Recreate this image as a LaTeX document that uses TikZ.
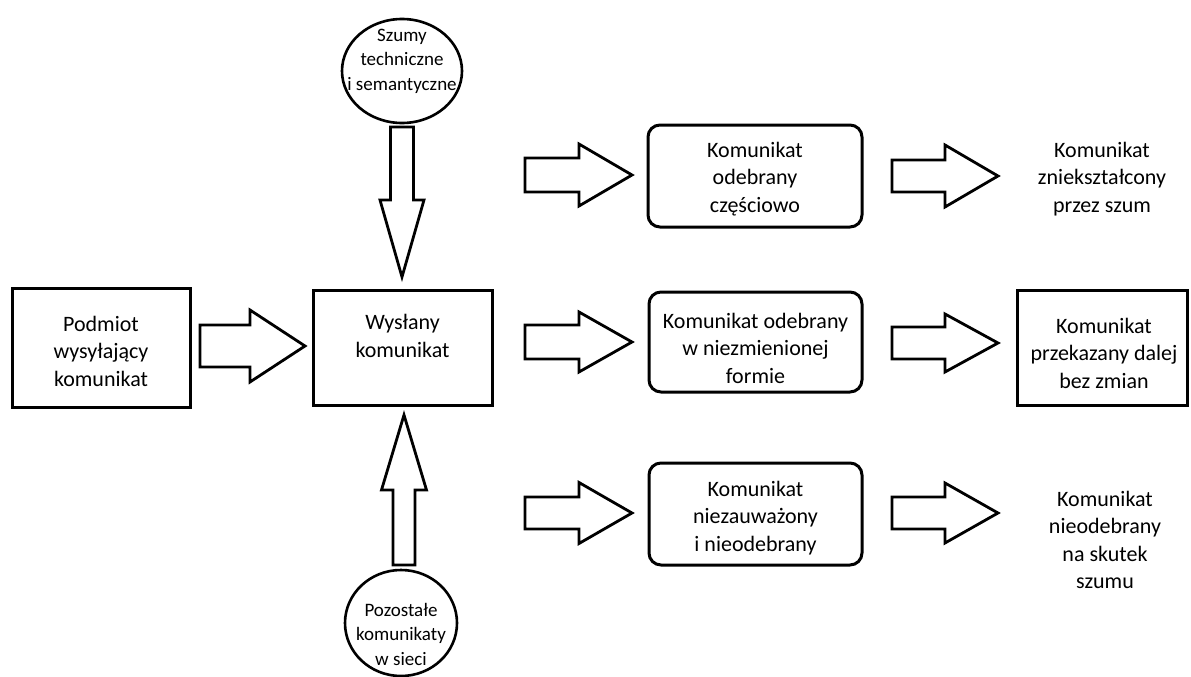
\documentclass[tikz,border=0pt]{standalone}
\usepackage{fontspec}
\setmainfont{Carlito}
\usetikzlibrary{shapes.geometric}
\tikzset{
  boxS/.style={draw, line width=3pt, inner sep=0pt},
  rboxS/.style={boxS, rounded corners=12pt},
  circS/.style={draw, ellipse, line width=2.6pt, inner sep=0pt},
  txt/.style={align=center, font=\fontsize{22}{27.5}\selectfont, inner sep=0pt},
  stxt/.style={align=center, font=\fontsize{19}{24.5}\selectfont, inner sep=0pt},
  barrow/.style={draw, line width=2.8pt, fill=white, line join=miter},
}
% horizontal block arrow: tail x, head-start x, tip x, centre y, shaft half, head half
\newcommand\blockR[6]{\draw[barrow] (#1,{#4-#5}) -- (#2,{#4-#5}) -- (#2,{#4-#6}) -- (#3,#4) -- (#2,{#4+#6}) -- (#2,{#4+#5}) -- (#1,{#4+#5}) -- cycle;}
% vertical block arrow: tail y, head-start y, tip y, centre x, shaft half, head half
\newcommand\blockV[6]{\draw[barrow] ({#4-#5},#1) -- ({#4-#5},#2) -- ({#4-#6},#2) -- (#4,#3) -- ({#4+#6},#2) -- ({#4+#5},#2) -- ({#4+#5},#1) -- cycle;}
\begin{document}
\begin{tikzpicture}[x=1pt,y=-1pt]
\useasboundingbox (0,0) rectangle (1191,677);

% boxes
\node[boxS, minimum width=178pt, minimum height=119pt] (podmiot) at (101,347.5) {};
\node[txt] (podmiotT) at (101,351) {Podmiot\\wysyłający\\komunikat};

\node[boxS, minimum width=179pt, minimum height=115pt] (wyslany) at (402.5,347.5) {};
\node[txt] (wyslanyT) at (402.5,336) {Wysłany\\komunikat};

\node[rboxS, minimum width=214pt, minimum height=102pt] (odeb1) at (755,176) {};
\node[txt] (odeb1T) at (755,179) {Komunikat\\odebrany\\częściowo};

\node[rboxS, minimum width=213pt, minimum height=100pt] (odeb2) at (755.5,342) {};
\node[txt] (odeb2T) at (755.5,348) {Komunikat odebrany\\w niezmienionej\\formie};

\node[rboxS, minimum width=213pt, minimum height=102pt] (odeb3) at (755.5,514) {};
\node[txt] (odeb3T) at (755.5,518) {Komunikat\\niezauważony\\i nieodebrany};

\node[txt] (wynik1) at (1102,179) {Komunikat\\zniekształcony\\przez szum};

\node[boxS, minimum width=170pt, minimum height=115pt] (wynik2) at (1102,347.5) {};
\node[txt] (wynik2T) at (1104,353) {Komunikat\\przekazany dalej\\bez zmian};

\node[txt] (wynik3) at (1105,540) {Komunikat\\nieodebrany\\na skutek\\szumu};

% circles
\node[circS, minimum width=120pt, minimum height=104pt] (szumy) at (402,71) {};
\node[stxt] (szumyT) at (402,61) {Szumy\\techniczne\\i semantyczne};

\node[circS, minimum width=112pt, minimum height=106pt] (pozost) at (401,623) {};
\node[stxt] (pozostT) at (401,634) {Pozostałe\\komunikaty\\w sieci};

% block arrows
\blockR{200}{250}{305}{346}{21}{36}
\blockV{127}{200}{277}{402}{11.5}{22}
\blockV{565}{490}{415}{404}{11}{22.5}

\blockR{525}{579}{632}{175}{17}{31}
\blockR{525}{579}{632}{342}{17}{30}
\blockR{525}{579}{632}{513}{16}{30.5}

\blockR{892}{945}{998}{176}{16}{31}
\blockR{892}{945}{998}{343}{16}{29}
\blockR{892}{945}{998}{513}{16}{30}
\end{tikzpicture}
\end{document}
